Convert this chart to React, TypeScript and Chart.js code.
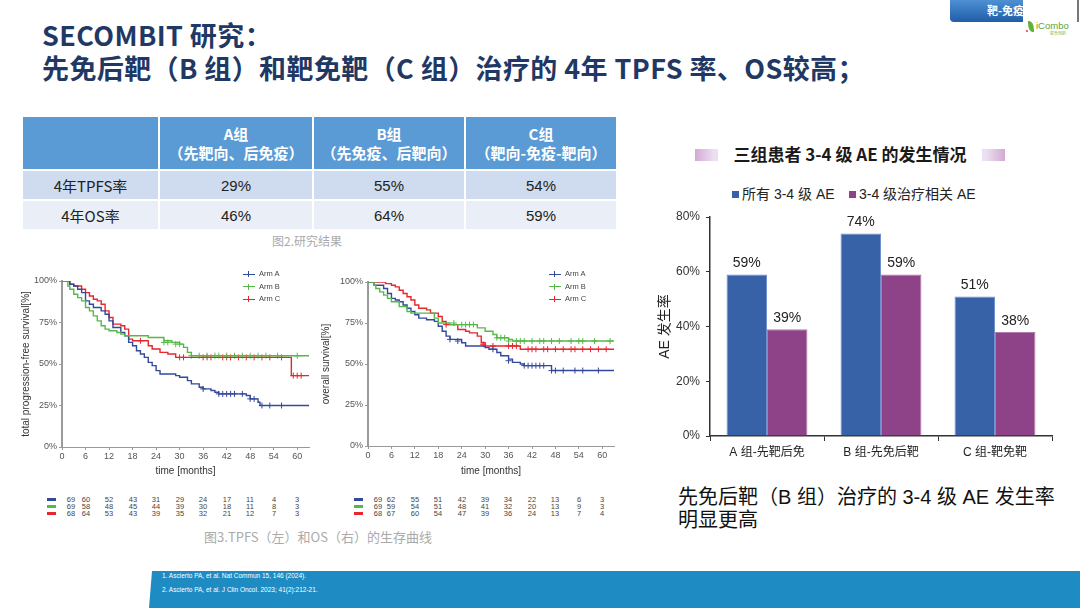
import React, { useEffect, useRef } from "react";
import { Chart, registerables } from "chart.js";

Chart.register(...registerables);

const FONT = "'Liberation Sans', Arial, 'Noto Sans CJK SC', sans-serif";
const CJK = "'Noto Sans CJK SC', 'Liberation Sans', sans-serif";

// ---------- AE bar chart data ----------
const aeTitle = "三组患者 3-4 级 AE 的发生情况";
const aeCategories = ["A 组-先靶后免", "B 组-先免后靶", "C 组-靶免靶"];
const aeSeriesNames = ["所有 3-4 级 AE", "3-4 级治疗相关 AE"];
const aeAllGrade34 = [59, 74, 51];
const aeTreatmentRelated = [39, 59, 38];
const aeYTicks = [0, 20, 40, 60, 80];
const aeYTitle = "AE 发生率";
const aeColors = ["#3762a8", "#8e4388"];

// ---------- results table ----------
const tableGroups = ["A组", "B组", "C组"];
const tableGroupDesc = ["（先靶向、后免疫）", "（先免疫、后靶向）", "（靶向-免疫-靶向）"];
const tableRowNames = ["4年TPFS率", "4年OS率"];
const tpfs4y = ["29%", "55%", "54%"];
const os4y = ["46%", "64%", "59%"];

// ---------- Kaplan-Meier curves: [month, survival %] ----------
const armNames = ["Arm A", "Arm B", "Arm C"];
const armColors = ["#33499c", "#55b947", "#e8262d"];
const kmTimeTicks = [0, 6, 12, 18, 24, 30, 36, 42, 48, 54, 60];
const kmYTicks = [0, 25, 50, 75, 100];

const tpfsArmA = [[0,100],[2,98],[3,97],[4,95],[5,93],[6,88],[7,86],[8,84],[10,82],[11,80],[12,76],[13,72],[15,69],[16,67],[17,63],[18,61],[19,58],[20,56],[21,54],[22,51],[23,49],[24,46],[25,44],[29,43],[30,42],[32,40],[33,38],[35,36],[36,35],[38,34],[39,33],[40,32],[47,31],[48,29],[50,27],[50.5,25],[63,25]];
const tpfsArmB = [[0,100],[1.5,97],[2,95],[3,92],[4,90],[5,88],[6,84],[7,82],[8,79],[9,76],[10,73],[11,71],[12,70],[14,69],[15,68],[16,67],[22,66],[26,64],[28,63],[30,62],[31,60],[32,57],[33,55],[63,55]];
const tpfsArmC = [[0,100],[2,98],[3,97],[5,95],[6,93],[7,91],[8,89],[9,88],[10,86],[11,82],[12,78],[13,74],[15,73],[16,71],[17,65],[18,64],[22,61],[23,59],[25,57],[27,56],[29,54],[58.5,43],[63,43]];
const tpfsCensA = [[36,35],[40,32],[41,32],[42,32],[43,32],[44,32],[46,32],[48,29],[49,29],[51,25],[53,25],[56,25]];
const tpfsCensB = [[26,63],[27,63],[29,62],[30,62],[33,55],[35,55],[37,55],[39,55],[40,55],[42,55],[44,55],[46,55],[48,55],[50,55],[52,55],[55,55],[60,55]];
const tpfsCensC = [[20,64],[30,54],[31,54],[36,54],[37,54],[38,54],[41,54],[42,54],[43,54],[45,54],[47,54],[49,54],[51,54],[53,54],[56,54],[59,43],[60,43],[61,43]];

const osArmA = [[0,100],[1.5,98],[4,96],[5,93],[6,90],[7,89],[8,88],[9,86],[10,84],[11,82],[12,80],[13,78],[15,77],[17,76],[18,73],[19,70],[20,67],[21,65],[24,63],[25,61],[30,60],[31,59],[33,57],[34,55],[36,53],[37,51],[39,50],[40,49],[47,46],[63,46]];
const osArmB = [[0,100],[1.5,98],[2,96],[3,94],[4,92],[5,90],[6,88],[8,85],[10,82],[11,81],[17,78],[18,75],[21,74],[28,72],[30,70],[32,68],[33,66],[36,65],[37,64],[63,64]];
const osArmC = [[0,100],[4.5,99],[6,98],[7,97],[8,95],[9,93],[10,91],[11,89],[12,86],[13,84],[15,83],[16,81],[18,79],[19,76],[20,74],[23,71],[25,70],[26,69],[28,67],[29,63],[30,61],[39,59],[63,59]];
const osCensA = [[21,65],[23,64],[32,59],[36,52],[40,49],[41,49],[42,49],[43,49],[44,49],[45,49],[47,46],[48,46],[50,46],[53,46],[55,46],[59,46]];
const osCensB = [[22,75],[24,74],[25,74],[26,74],[27,74],[33,66],[34,66],[35,66],[36,64],[38,64],[39,64],[40,64],[42,64],[44,64],[45,64],[47,64],[49,64],[52,64],[54,64],[55,64],[58,64],[62,64]];
const osCensC = [[20,74],[29.5,62],[32,61],[36,61],[37,61],[38,61],[41,59],[42,59],[43,59],[45,59],[46,59],[48,59],[50,59],[52,59],[53,59],[55,59],[57,59],[59,59],[61,59]];

const tpfsAtRisk = [
  [69, 60, 52, 43, 31, 29, 24, 17, 11, 4, 3],
  [69, 58, 48, 45, 44, 39, 30, 18, 11, 8, 3],
  [68, 64, 53, 43, 39, 35, 32, 21, 12, 7, 3],
];
const osAtRisk = [
  [69, 62, 55, 51, 42, 39, 34, 22, 13, 6, 3],
  [69, 59, 54, 51, 48, 41, 32, 20, 13, 9, 3],
  [68, 67, 60, 54, 47, 39, 36, 24, 13, 7, 4],
];

const references = [
  "1.  Ascierto PA, et al. Nat Commun 15, 146 (2024).",
  "2. Ascierto PA, et al. J Clin Oncol. 2023; 41(2):212-21.",
];

const toXY = (arr: number[][]) => arr.map(([x, y]) => ({ x, y }));

function AEBarChart() {
  const ref = useRef<HTMLCanvasElement>(null);
  useEffect(() => {
    const valueLabels = {
      id: "valueLabels",
      afterDatasetsDraw(chart: any) {
        const { ctx } = chart;
        ctx.save();
        ctx.font = `14px ${FONT}`;
        ctx.fillStyle = "#222";
        ctx.textAlign = "center";
        ctx.textBaseline = "bottom";
        chart.data.datasets.forEach((ds: any, i: number) => {
          const meta = chart.getDatasetMeta(i);
          meta.data.forEach((el: any, j: number) => {
            ctx.fillText(`${ds.data[j]}%`, el.x, el.y - 4);
          });
        });
        ctx.restore();
      },
    };
    const chart = new Chart(ref.current!, {
      type: "bar",
      data: {
        labels: aeCategories,
        datasets: [
          { label: aeSeriesNames[0], data: aeAllGrade34, backgroundColor: aeColors[0], borderColor: "#6f90cc", borderWidth: 1 },
          { label: aeSeriesNames[1], data: aeTreatmentRelated, backgroundColor: aeColors[1], borderColor: "#b07aac", borderWidth: 1 },
        ],
      },
      options: {
        animation: false,
        responsive: false,
        font: { family: FONT },
        layout: { padding: { top: 17, right: 13, left: 0, bottom: 0 } },
        datasets: { bar: { barPercentage: 1, categoryPercentage: 0.71 } },
        plugins: { legend: { display: false }, tooltip: { enabled: false } },
        scales: {
          x: {
            grid: { drawOnChartArea: false, drawTicks: true, tickLength: 5, color: "#333", offset: true },
            border: { color: "#333", width: 1.5 },
            ticks: { font: { size: 12, family: FONT }, color: "#222", padding: 4 },
            afterFit: (s: any) => { s.height = 34; },
          },
          y: {
            min: 0,
            max: 80,
            afterBuildTicks: (s: any) => { s.ticks = aeYTicks.map((v) => ({ value: v })); },
            ticks: { callback: (v: any) => `${v}%`, font: { size: 12, family: FONT }, color: "#333", padding: 6 },
            grid: { drawOnChartArea: false, tickLength: 4, color: "#333" },
            border: { color: "#333", width: 1.5 },
            title: { display: true, text: aeYTitle, font: { size: 14, family: FONT }, color: "#222", padding: 2 },
            afterFit: (s: any) => { s.width = 55; },
          },
        },
      } as any,
      plugins: [valueLabels],
    });
    return () => chart.destroy();
  }, []);
  return (
    <canvas
      ref={ref}
      width={410}
      height={270}
      style={{ position: "absolute", left: 655, top: 200, width: 410, height: 270 }}
    />
  );
}

function KMChart(props: {
  curves: number[][][];
  censors: number[][][];
  yTitle: string;
  left: number;
  top: number;
  width: number;
  height: number;
  yAxisWidth: number;
  xAxisHeight: number;
  padTop: number;
  padRight: number;
}) {
  const ref = useRef<HTMLCanvasElement>(null);
  useEffect(() => {
    const datasets: any[] = [];
    const order = [1, 0, 2];
    order.forEach((i) => {
      datasets.push({
        label: armNames[i],
        data: toXY(props.curves[i]),
        borderColor: armColors[i],
        borderWidth: 1.4,
        pointRadius: 0,
        stepped: "before",
        fill: false,
      });
    });
    order.forEach((i) => {
      datasets.push({
        label: armNames[i] + " censored",
        data: toXY(props.censors[i]),
        showLine: false,
        pointStyle: "cross",
        pointRadius: 3,
        borderWidth: 1,
        borderColor: armColors[i],
        pointBorderColor: armColors[i],
        backgroundColor: armColors[i],
      });
    });
    const chart = new Chart(ref.current!, {
      type: "line",
      data: { datasets },
      options: {
        animation: false,
        responsive: false,
        layout: { padding: { top: props.padTop, right: props.padRight, left: 0, bottom: 0 } },
        plugins: { legend: { display: false }, tooltip: { enabled: false } },
        scales: {
          x: {
            type: "linear",
            min: 0,
            max: 63,
            afterBuildTicks: (s: any) => { s.ticks = kmTimeTicks.map((v) => ({ value: v })); },
            ticks: { font: { size: 9, family: FONT }, color: "#555", padding: 1 },
            grid: { drawOnChartArea: false, tickLength: 3, color: "#999" },
            border: { color: "#999", width: 1 },
            title: { display: true, text: "time [months]", font: { size: 10, family: FONT }, color: "#333", padding: { top: 1, bottom: 0 } },
            afterFit: (s: any) => { s.height = props.xAxisHeight; },
          },
          y: {
            min: 0,
            max: 100,
            afterBuildTicks: (s: any) => { s.ticks = kmYTicks.map((v) => ({ value: v })); },
            ticks: { callback: (v: any) => `${v}%`, font: { size: 9, family: FONT }, color: "#555", padding: 2 },
            grid: { drawOnChartArea: false, tickLength: 3, color: "#999" },
            border: { color: "#9a9a9a", width: 2 },
            title: { display: true, text: props.yTitle, font: { size: 10, family: FONT }, color: "#333", padding: 0 },
            afterFit: (s: any) => { s.width = props.yAxisWidth; },
          },
        },
      } as any,
    });
    return () => chart.destroy();
  }, []);
  return (
    <canvas
      ref={ref}
      width={props.width}
      height={props.height}
      style={{ position: "absolute", left: props.left, top: props.top, width: props.width, height: props.height }}
    />
  );
}

function KMLegend({ x, y }: { x: number; y: number }) {
  return (
    <>
      {armNames.map((n, i) => (
        <div key={n} style={{ position: "absolute", left: x, top: y + i * 12.5 - 5, height: 10, width: 60 }}>
          <div style={{ position: "absolute", left: 0, top: 4.5, width: 12, height: 1.4, background: armColors[i] }} />
          <div style={{ position: "absolute", left: 5, top: 2, width: 1.4, height: 6, background: armColors[i] }} />
          <div style={{ position: "absolute", left: 16, top: 0, fontSize: 7.5, lineHeight: "10px", color: "#444", fontFamily: FONT }}>{n}</div>
        </div>
      ))}
    </>
  );
}

function RiskTable({ rows, markerX, firstX, tick0X, tickStep, y }: { rows: number[][]; markerX: number; firstX: number; tick0X: number; tickStep: number; y: number }) {
  return (
    <>
      {rows.map((r, ri) => (
        <React.Fragment key={ri}>
          <div style={{ position: "absolute", left: markerX, top: y + ri * 7 - 1, width: 9, height: 3, background: armColors[ri] }} />
          {r.map((v, ci) => {
            const cx = Math.round(ci === 0 ? firstX : tick0X + ci * tickStep);
            return (
              <div key={ci} style={{ position: "absolute", left: cx - 10, width: 20, top: y + ri * 7 - 4, textAlign: "center", fontSize: 7.5, lineHeight: "9px", color: "#444", fontFamily: FONT }}>
                {v}
              </div>
            );
          })}
        </React.Fragment>
      ))}
    </>
  );
}

export default function App() {
  useEffect(() => {
    document.body.style.margin = "0";
  }, []);
  const cellBase: React.CSSProperties = { border: "2px solid #fff", textAlign: "center", padding: 0 };
  return (
    <div style={{ position: "absolute", left: 0, top: 0, width: 1080, height: 608, overflow: "hidden", background: "#fff", fontFamily: CJK }}>
      {/* Title */}
      <div style={{ position: "absolute", left: 42, top: 18, fontSize: 27, fontWeight: 700, color: "#1f3864", lineHeight: "33px", whiteSpace: "nowrap", letterSpacing: 0.4 }}>
        <div>SECOMBIT 研究：</div>
        <div>先免后靶（B 组）和靶免靶（C 组）治疗的 4年 TPFS 率、OS较高；</div>
      </div>

      {/* top-right tab and logo */}
      <div style={{ position: "absolute", left: 950, top: 0, width: 73, height: 22, background: "linear-gradient(#4f8fd3, #1f5ea8)", borderBottomLeftRadius: 4, overflow: "hidden" }}>
        <div style={{ position: "absolute", left: 37, top: 4, color: "#fff", fontSize: 11, fontWeight: 700, whiteSpace: "nowrap", lineHeight: "13px" }}>靶-免疫</div>
      </div>
      <div style={{ position: "absolute", left: 1077, top: 0, width: 1.5, height: 22, background: "#777" }} />
      <div style={{ position: "absolute", left: 1028, top: 21, width: 6, height: 11, background: "#62b03a", borderRadius: "0 80% 0 80%" }} />
      <div style={{ position: "absolute", left: 1026, top: 30, width: 2, height: 2, background: "#e33", borderRadius: 1 }} />
      <div style={{ position: "absolute", left: 1036, top: 20, fontSize: 9.5, color: "#5aa536", fontFamily: FONT, lineHeight: "11px" }}>iCombo</div>
      <div style={{ position: "absolute", left: 1050, top: 31, fontSize: 4, color: "#7bb85a", lineHeight: "5px" }}>联合用药</div>

      {/* Results table */}
      <table style={{ position: "absolute", left: 21, top: 115, borderCollapse: "collapse", fontFamily: CJK, tableLayout: "fixed" }}>
        <colgroup>
          <col style={{ width: 137 }} />
          <col style={{ width: 154 }} />
          <col style={{ width: 152 }} />
          <col style={{ width: 152 }} />
        </colgroup>
        <tbody>
          <tr style={{ height: 54, background: "#5b9bd5" }}>
            <td style={cellBase}></td>
            {tableGroups.map((g, i) => (
              <td key={g} style={{ ...cellBase, color: "#fff", fontWeight: 700, fontSize: 15, lineHeight: "19px" }}>
                <div>{g}</div>
                <div>{tableGroupDesc[i]}</div>
              </td>
            ))}
          </tr>
          {[tpfs4y, os4y].map((row, ri) => (
            <tr key={ri} style={{ height: 30, background: ri === 0 ? "#cfdbee" : "#e9eef7" }}>
              <td style={{ ...cellBase, fontSize: 15, color: "#222" }}>{tableRowNames[ri]}</td>
              {row.map((v, ci) => (
                <td key={ci} style={{ ...cellBase, fontSize: 15, color: "#222", fontFamily: FONT }}>{v}</td>
              ))}
            </tr>
          ))}
        </tbody>
      </table>
      <div style={{ position: "absolute", left: 207, width: 200, top: 232, textAlign: "center", fontSize: 12, color: "#aaa" }}>图2.研究结果</div>

      {/* KM curves */}
      <KMChart
        curves={[tpfsArmA, tpfsArmB, tpfsArmC]}
        censors={[tpfsCensA, tpfsCensB, tpfsCensC]}
        yTitle="total progression-free survival[%]"
        left={20}
        top={262}
        width={300}
        height={215}
        yAxisWidth={42}
        xAxisHeight={30}
        padTop={19}
        padRight={11}
      />
      <KMChart
        curves={[osArmA, osArmB, osArmC]}
        censors={[osCensA, osCensB, osCensC]}
        yTitle="overall survival[%]"
        left={320}
        top={262}
        width={300}
        height={215}
        yAxisWidth={48}
        xAxisHeight={31}
        padTop={20}
        padRight={6}
      />
      <KMLegend x={243} y={274} />
      <KMLegend x={549} y={274} />
      <RiskTable rows={tpfsAtRisk} markerX={47} firstX={71} tick0X={62} tickStep={23.5} y={499} />
      <RiskTable rows={osAtRisk} markerX={354} firstX={378} tick0X={368} tickStep={23.4} y={499} />
      <div style={{ position: "absolute", left: 168, width: 300, top: 527, textAlign: "center", fontSize: 13, color: "#aaa", whiteSpace: "nowrap" }}>
        图3.TPFS（左）和OS（右）的生存曲线
      </div>

      {/* AE chart title */}
      <div style={{ position: "absolute", left: 695, top: 149, width: 310, height: 12, background: "linear-gradient(90deg, rgba(196,140,196,0.75) 0%, rgba(225,200,232,0.6) 6%, rgba(205,222,242,0.7) 9%, rgba(255,255,255,0) 14%, rgba(255,255,255,0) 86%, rgba(205,222,242,0.7) 91%, rgba(225,200,232,0.6) 94%, rgba(196,140,196,0.75) 100%)" }} />
      <div style={{ position: "absolute", left: 718, width: 264, top: 143, height: 22, background: "#fff" }} />
      <div style={{ position: "absolute", left: 700, width: 300, top: 142, textAlign: "center", fontSize: 17, fontWeight: 700, color: "#1a1a1a", lineHeight: "24px", whiteSpace: "nowrap" }}>{aeTitle}</div>

      {/* AE legend */}
      {aeSeriesNames.map((n, i) => (
        <div key={n} style={{ position: "absolute", left: i === 0 ? 732 : 849, top: 185, height: 18, whiteSpace: "nowrap" }}>
          <div style={{ position: "absolute", left: 0, top: 6, width: 7, height: 7, background: aeColors[i] }} />
          <div style={{ position: "absolute", left: 10, top: 0, fontSize: 14, lineHeight: "18px", color: "#222", fontFamily: FONT }}>{n}</div>
        </div>
      ))}

      <AEBarChart />

      {/* conclusion */}
      <div style={{ position: "absolute", left: 678, top: 486, fontSize: 20, lineHeight: "23px", color: "#111", fontFamily: FONT, whiteSpace: "nowrap" }}>
        <div>先免后靶（B 组）治疗的 3-4 级 AE 发生率</div>
        <div>明显更高</div>
      </div>

      {/* bottom band */}
      <div style={{ position: "absolute", left: 0, top: 571, width: 1080, height: 37, background: "#1e8bc3", clipPath: "polygon(152px 0, 1080px 0, 1080px 37px, 149px 37px)" }} />
      {references.map((r, i) => (
        <div key={i} style={{ position: "absolute", left: 162, top: 572 + i * 13.5, fontSize: 6.5, lineHeight: "8px", color: "#fff", fontFamily: FONT, whiteSpace: "nowrap" }}>{r}</div>
      ))}
    </div>
  );
}
